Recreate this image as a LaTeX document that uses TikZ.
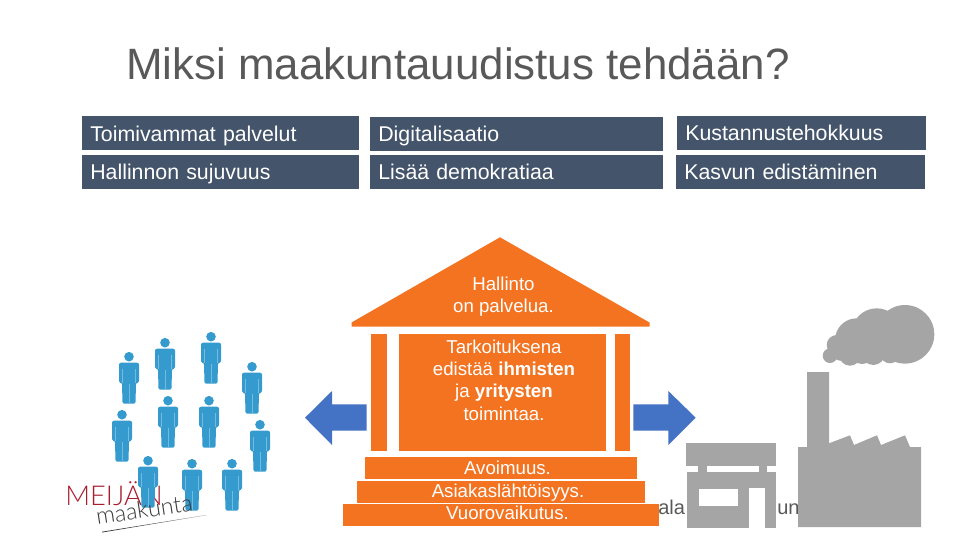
\documentclass[tikz,border=0pt]{standalone}
\usepackage{fontspec}
\setmainfont{Liberation Sans}
\newfontfamily\logofont{Lato Light}
\definecolor{boxblue}{HTML}{44546A}
\definecolor{houseorange}{HTML}{F37321}
\definecolor{arrowblue}{HTML}{4472C4}
\definecolor{persblue}{HTML}{359BCF}
\definecolor{persline}{HTML}{74BBDE}
\definecolor{factgray}{HTML}{A5A5A5}
\definecolor{logored}{HTML}{A81C2E}
\definecolor{logogray}{HTML}{3A3A3A}
\tikzset{
  topbox/.style={fill=boxblue,text=white,anchor=north west,inner ysep=0pt,inner xsep=6pt,text height=11.6pt,text depth=0pt,font=\fontsize{16}{18}\selectfont,align=left},
  housetext/.style={text=white,align=center,inner sep=0pt,font=\fontsize{14}{16.7}\selectfont},
  steptext/.style={text=white,anchor=base,inner sep=0pt,font=\fontsize{14}{16}\selectfont},
  hiddentext/.style={text=black!65,anchor=base,inner sep=0pt,font=\fontsize{15}{16}\selectfont},
  person/.pic={
    \fill[persblue] (0,0) circle (4.8);
    \fill[persblue,rounded corners=1.5pt] (-10,26) -- (-10,6) -- (10,6) -- (10,26) -- (7,26) -- (6.5,47) -- (-6.5,47) -- (-7,26) -- cycle;
    \draw[persline,line width=0.5pt] (-6.5,12) -- (-6.5,26) (6.5,12) -- (6.5,26);
    \draw[persline,line width=0.6pt] (0,27) -- (0,47);
  }
}
\begin{document}
\begin{tikzpicture}[x=0.75pt,y=-0.75pt,line join=round]
  \useasboundingbox (0,0) rectangle (960,540);
  % Title
  \node[anchor=base west,inner sep=0pt,text=black!65,font=\fontsize{32.9}{36}\selectfont] (title) at (126,79) {Miksi maakuntauudistus tehdään?};

  % Boxes
  \node[topbox,text width=195.75pt,minimum height=25.5pt] (palvelut) at (82,116) {Toimivammat palvelut};
  \node[topbox,text width=195.75pt,minimum height=25.2pt] (hallinnon) at (82,155) {Hallinnon sujuvuus};
  \node[topbox,text width=207.75pt,minimum height=25.2pt] (digi) at (370,117) {Digitalisaatio};
  \node[topbox,text width=207.75pt,minimum height=25.2pt] (demokratia) at (370,155) {Lisää demokratiaa};
  \node[topbox,text width=174.75pt,minimum height=25.2pt] (kustannus) at (677,116) {Kustannustehokkuus};
  \node[topbox,text width=174.75pt,minimum height=25.2pt] (kasvu) at (676,155) {Kasvun edistäminen};

  % Text behind the steps
  \node[hiddentext,anchor=base west] (alafrag) at (658,514) {ala};
  \node[hiddentext,anchor=base west] (unfrag) at (777,514) {un};

  % Logo
  \node[anchor=base west,inner sep=0pt,text=logored,font=\logofont\fontsize{20.5}{22}\selectfont] (meijan) at (65,505) {MEIJÄN};

  % People
  \foreach \px/\py in {129/356.7,165/342.7,211/336.7,252/366.7,122/414.7,168/400.7,209/400.7,260/424.7,148/460.7,192/463.7,232/463.7}
    \pic at (\px,\py) {person};

  \node[anchor=base west,inner sep=0pt,text=logogray,rotate=8.5,font=\logofont\fontsize{17.5}{20}\selectfont] (maakunta) at (97,525) {maakunta};
  \fill[logogray] (102,531.7) -- (206.7,515) -- (102,532.5) -- cycle;

  % House
  \fill[houseorange] (500,237.3) -- (649.5,322.5) -- (649.5,326.5) -- (351.5,326.5) -- (351.5,322.5) -- cycle;
  \fill[houseorange] (371,334) rectangle (387,450.7);
  \fill[houseorange] (399,334) rectangle (606,450.7);
  \fill[houseorange] (615,334) rectangle (630,450.7);
  \fill[houseorange] (365,457) rectangle (636.7,478.7);
  \fill[houseorange] (357,481) rectangle (645,502.7);
  \fill[houseorange] (343,504) rectangle (659,526);

  \node[housetext] (hallinto) at (503.5,296.5) {Hallinto\\on palvelua.};
  \node[housetext] (tarkoitus) at (504,380) {Tarkoituksena\\edistää \textbf{ihmisten}\\ja \textbf{yritysten}\\toimintaa.};
  \node[steptext] (avoimuus) at (507.5,474.3) {Avoimuus.};
  \node[steptext] (asiakas) at (508,497.7) {Asiakaslähtöisyys.};
  \node[steptext] (vuoro) at (507.5,519.3) {Vuorovaikutus.};

  % Arrows
  \fill[arrowblue] (305,417.7) -- (332,391) -- (332,404.3) -- (366.7,404.3) -- (366.7,430.7) -- (332,430.7) -- (332,445) -- cycle;
  \fill[arrowblue] (695.7,417.7) -- (668.3,391) -- (668.3,404.3) -- (633.3,404.3) -- (633.3,430.7) -- (668.3,430.7) -- (668.3,445) -- cycle;

  % Shop
  \fill[factgray] (686,443) rectangle (776,465.7);
  \fill[factgray] (698,465) rectangle (707,473);
  \fill[factgray] (759,465) rectangle (767,473);
  \fill[factgray] (687,472) rectangle (776,527.7);
  \fill[white] (699,489) rectangle (738,506);
  \fill[white] (749,488) rectangle (765,527.7);

  % Factory
  \fill[factgray] (798,527) -- (798,447) -- (807,447) -- (807,372) -- (829,372) -- (829,443.3) -- (850,435.3) -- (854,445) -- (877,435.3) -- (881,445) -- (905,435.3) -- (910,447) -- (921,447) -- (921,527) -- cycle;

  % Smoke
  \foreach \sx/\sy/\sr in {905/334.3/29.3,876.7/333.3/25,856.7/340/21.7,873.3/353.3/11.7,850/355/10.7,836.7/345/10,830/355.7/7.3,890/353.3/10,842/349/12,862/352/12}
    \fill[factgray] (\sx,\sy) circle (\sr);
\end{tikzpicture}
\end{document}
